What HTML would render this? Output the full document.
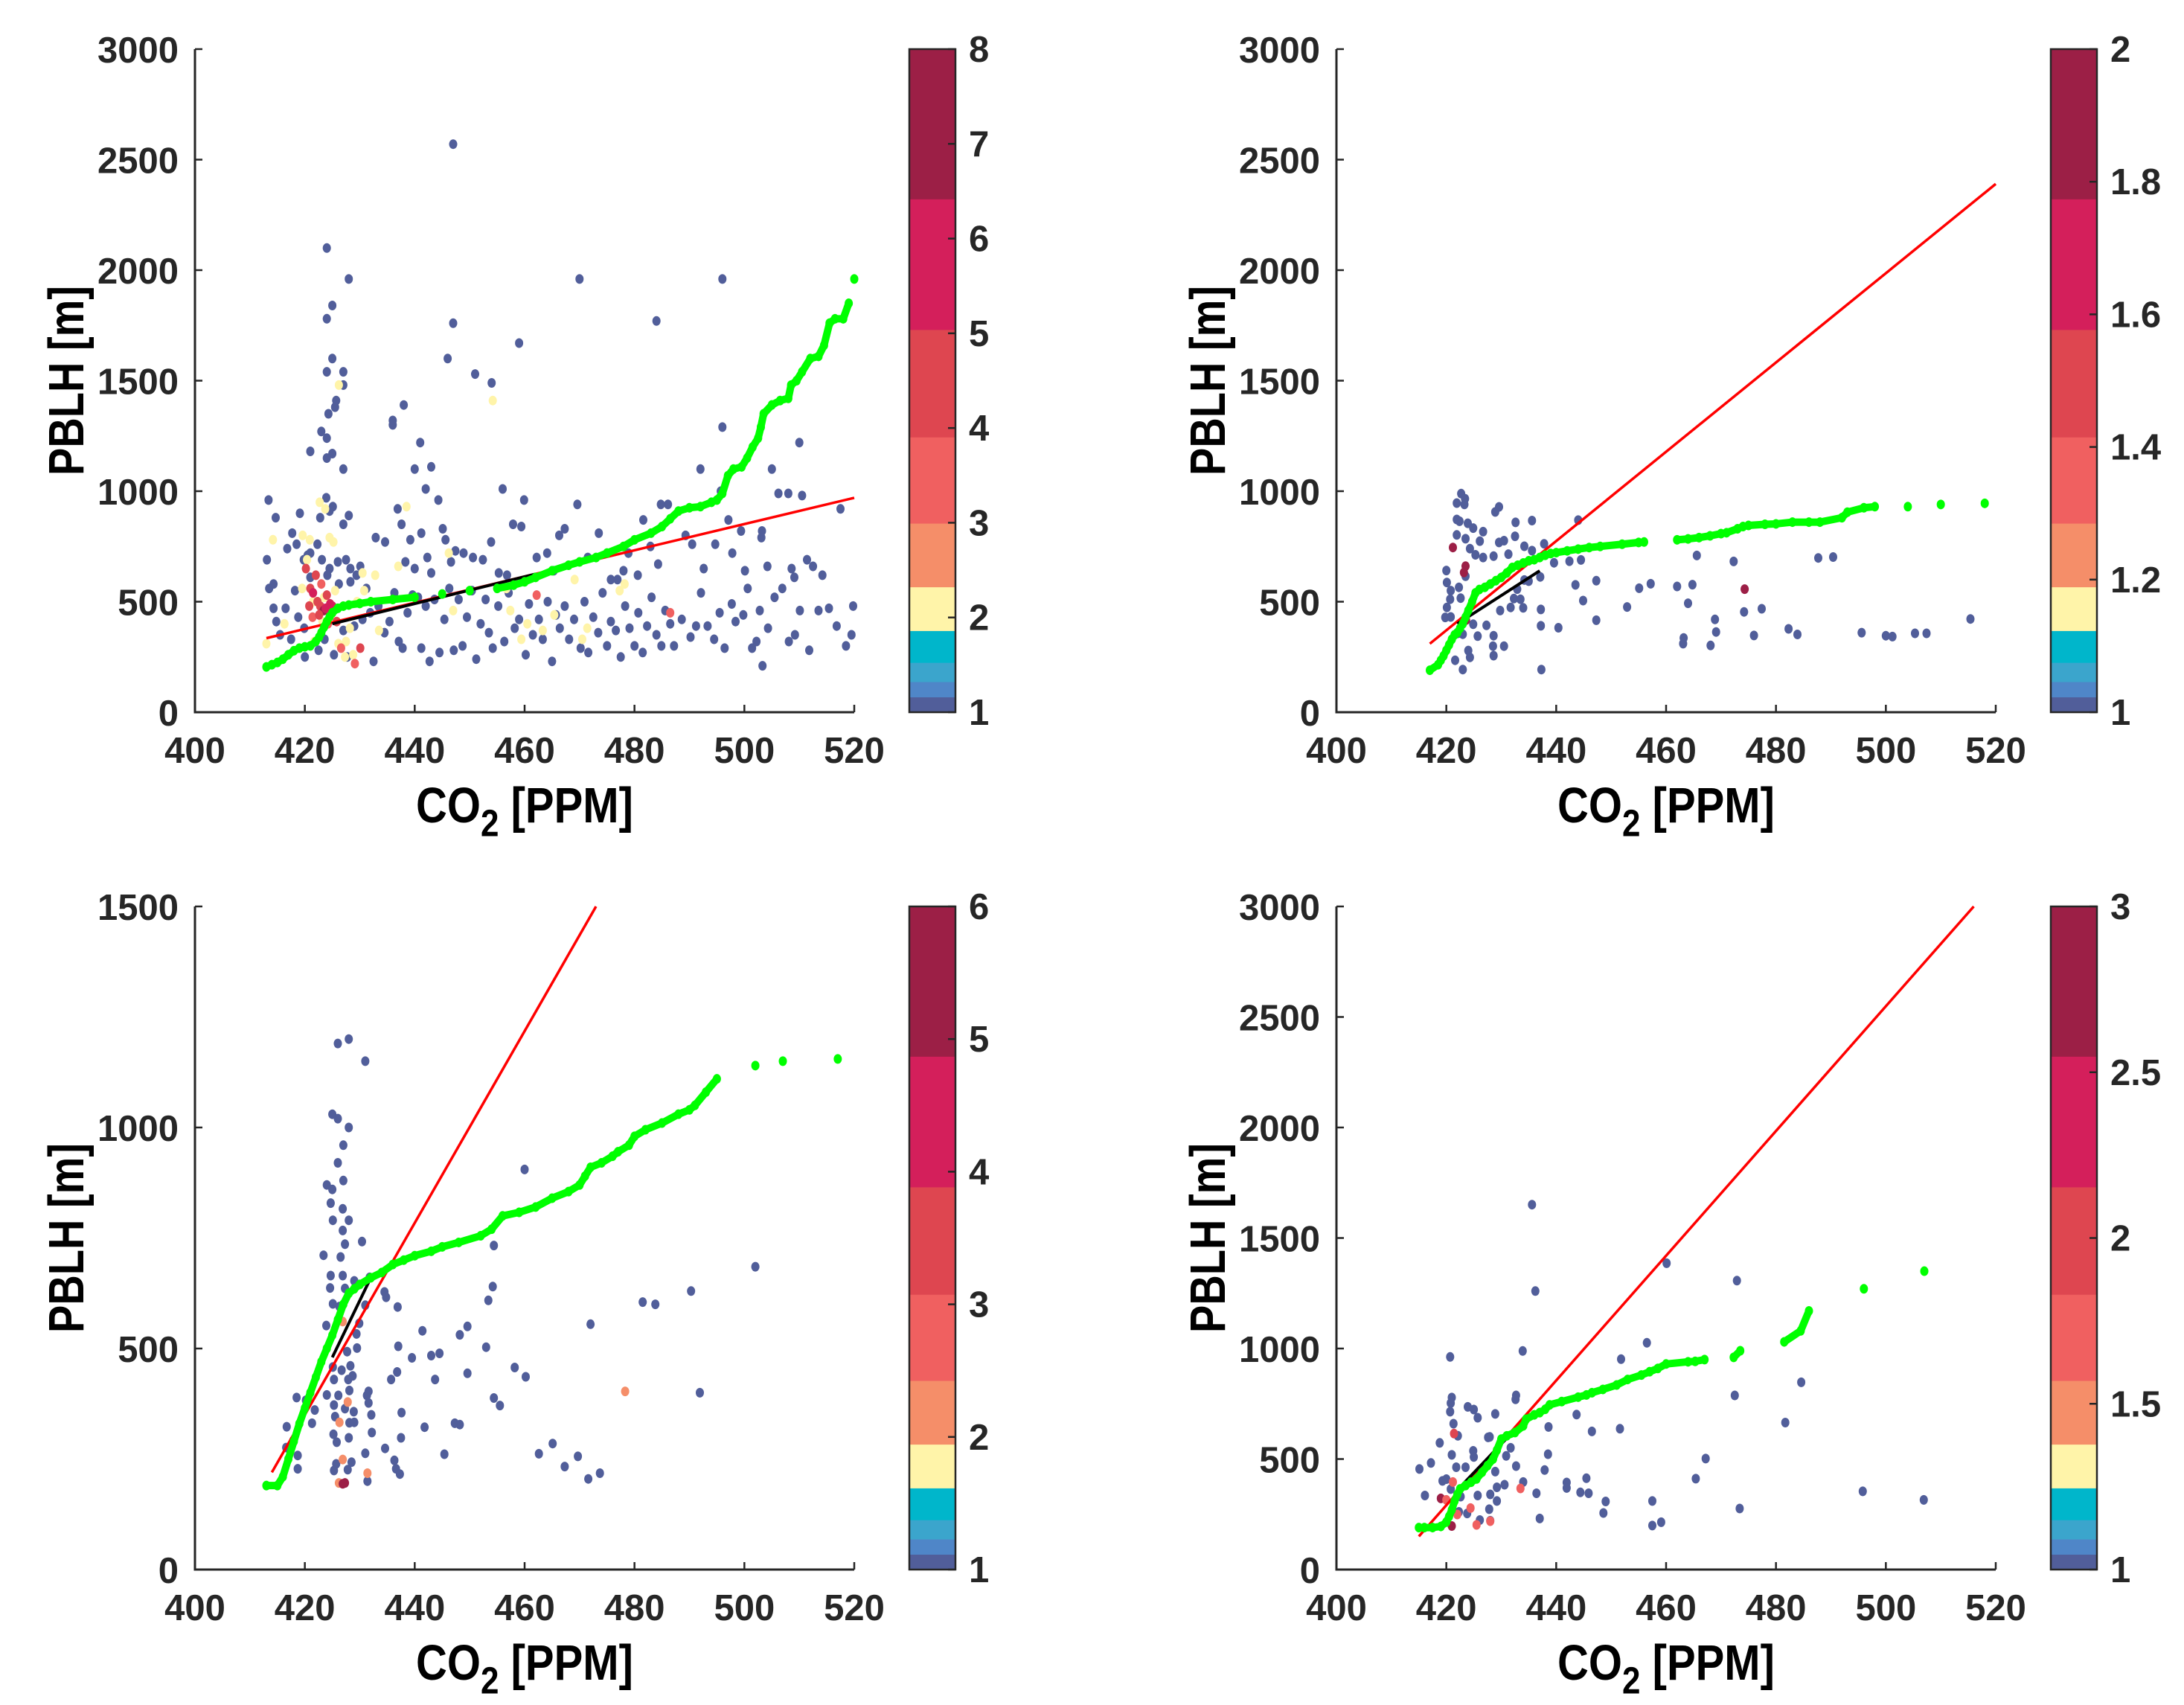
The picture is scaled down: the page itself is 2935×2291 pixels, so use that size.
<!DOCTYPE html>
<html><head><meta charset="utf-8">
<style>
html,body{margin:0;padding:0;background:#fff;}
svg{display:block;font-family:"Liberation Sans",Arial,sans-serif;}
</style></head>
<body>
<svg id="fig" width="2935" height="2291" viewBox="0 0 2935 2291" xmlns="http://www.w3.org/2000/svg"></svg>
<script>
// ---------- DATA ----------
// Panel A (top-left)
const aPts = [[447,2570,1],[424,2100,1],[428,1960,1],[470,1960,1],[496,1960,1],[425,1840,1],[424,1780,1],[447,1760,1],[484,1770,1],[459,1670,1],[446,1600,1],[425,1600,1],[424,1540,1],[427,1540,1],[451,1530,1],[454,1490,1],[427,1480,1],[438,1390,1],[436,1320,1],[436,1300,1],[496,1290,1],[423,1270,1],[424,1240,1],[441,1220,1],[510,1220,1],[421,1180,1],[425,1170,1],[424,1150,1],[427,1100,1],[440,1100,1],[443,1110,1],[492,1100,1],[505,1100,1],[442,1010,1],[456,1010,1],[508,990,1],[424.3,1350,1],[425.5,1380,1],[425.7,1410,1],
[413.4,960,1],[414.7,880,1],[417.7,810,1],[419.1,900,1],[422.8,880,1],[423.9,970,1],[424.5,910,1],[425.1,930,1],[427,850,1],[428,890,1],[420.5,710,1],[416.8,740,1],[418.5,760,1],[419.8,690,1],[421,720,1],[422.3,760,1],[423.1,690,1],[424.5,650,1],[426,680,1],[427.5,690,1],[428.3,650,1],[429.4,620,1],[430.1,660,1],[432.9,790,1],[434.6,770,1],[436.9,920,1],[437.6,850,1],[438.3,680,1],[439.2,780,1],[440,650,1],[441.2,810,1],[442.3,700,1],[443,630,1],[444.3,960,1],[445.1,830,1],[445.6,780,1],[446.6,680,1],[447.4,730,1],[448.9,720,1],[450.6,700,1],[452.4,690,1],[453.9,770,1],[455.3,630,1],[456.8,620,1],[457.9,850,1],[459.4,840,1],[459.9,960,1],[462.2,700,1],[464.1,720,1],[465.3,640,1],[466.3,800,1],[467.3,830,1],[469.6,940,1],[471.5,700,1],[473.5,810,1],[475.7,600,1],[476.9,600,1],[478,640,1],[478.9,720,1],[480.6,620,1],[481.6,870,1],[482.9,750,1],[484.3,670,1],[484.8,940,1],[486.1,940,1],[489.3,800,1],[490.5,760,1],[492.6,650,1],[494.7,760,1],[495.7,1000,1],[497.1,870,1],[497.8,720,1],[499.4,820,1],[500.1,640,1],[503.1,790,1],[503.2,820,1],[504.2,660,1],[506.2,990,1],[508.6,650,1],[509.1,610,1],[510.5,980,1],[511.4,690,1],[512.5,660,1],[514.2,620,1],[517.5,920,1],
[413.1,690,1],[413.5,560,1],[414.3,580,1],[414.3,470,1],[414.8,410,1],[415.5,350,1],[416.5,470,1],[417.5,330,1],[418.2,550,1],[418.8,430,1],[419.9,380,1],[420,250,1],[421,610,1],[422.5,280,1],[423.6,330,1],[424.1,620,1],[425.3,260,1],[426.2,580,1],[427,370,1],[427.7,250,1],[428.3,590,1],[429,390,1],[430.5,420,1],[431.2,560,1],[431.9,450,1],[432.5,230,1],[433.4,480,1],[434.5,360,1],[435.4,410,1],[436.3,540,1],[437.1,320,1],[437.8,290,1],[438.7,450,1],[439.6,530,1],[440.6,520,1],[441.2,290,1],[442,480,1],[442.7,230,1],[443.6,510,1],[444.5,270,1],[445.4,420,1],[446.3,560,1],[447.1,280,1],[448,510,1],[448.7,300,1],[449.5,430,1],[450.4,550,1],[451.2,240,1],[452,400,1],[452.9,510,1],[453.5,360,1],[454.2,290,1],[455.2,480,1],[456.3,320,1],[457.1,540,1],[458.2,380,1],[459,420,1],[460.2,260,1],[460.8,490,1],[461.5,350,1],[462.6,420,1],[463.3,330,1],[464.2,500,1],[465,230,1],[465.7,440,1],[466.4,380,1],[467.3,480,1],[468.1,330,1],[469,420,1],[470.2,290,1],[470.9,500,1],[471.6,270,1],[472.5,430,1],[473.4,360,1],[474.2,540,1],[475,300,1],[475.7,410,1],[476.6,370,1],[477.5,250,1],[478.3,480,1],[479.1,380,1],[480,300,1],[480.7,450,1],[481.5,270,1],[482.3,390,1],[483.1,520,1],[484,350,1],[484.9,300,1],[485.6,460,1],[486.5,400,1],[487.2,300,1],[488.6,420,1],[490.2,340,1],[491.2,390,1],[492.1,540,1],[493.3,390,1],[494.5,330,1],[495.5,450,1],[496.4,290,1],[497.7,490,1],[498.4,410,1],[499.8,440,1],[500.6,560,1],[501.4,290,1],[502.2,320,1],[502.8,460,1],[503.3,210,1],[504.3,380,1],[505.5,520,1],[506.9,560,1],[508.1,320,1],[509.2,350,1],[510.1,460,1],[511.8,280,1],[513.5,460,1],[515.4,470,1],[516.8,390,1],[518.5,300,1],[519.5,350,1],[519.8,480,1],
[413,310,2],[414.2,780,2],[416.3,400,2],[419.6,800,2],[420.4,690,2],[420.9,780,2],[422.7,950,2],[423.7,920,2],[424.5,790,2],[425.2,770,2],[426.2,1480,2],[425.5,550,2],[424.7,430,2],[423.2,410,2],[421.7,320,2],[426.1,310,2],[427.5,320,2],[428.2,380,2],[429.5,500,2],[430.5,630,2],[433.5,370,2],[437,660,2],[438.5,930,2],[446.2,720,2],[447,460,2],[454.2,1410,2],[456.7,560,2],[457.4,460,2],[459.4,330,2],[460.5,400,2],[463.3,370,2],[465.4,440,2],[469.1,600,2],[470.5,330,2],[471.4,380,2],[477.3,550,2],[478.2,580,2],[427.3,250,2],[428.8,260,2],[423.5,520,2],[421.5,500,2],[419.5,560,2],[430.8,550,2],[432.8,620,2],
[421,560,5],[421.5,540,6],[422.3,500,4],[422.8,480,5],[423.4,460,7],[424,530,5],[424.6,490,6],[425.2,460,4],[420.8,480,4],[421.4,430,3],[422,620,4],[423,580,3],[425.8,410,4],[426.6,290,3.5],[430.1,290,4],[429.1,220,3.5],[462.2,530,3.5],[486.5,450,3.5],[420.2,650,4],[422.6,440,4],[424.2,400,3],[425,480,6],[423.8,470,6]];
const aGreen = [[413,205],[414,215],[415,225],[416,240],[417,260],[418,278],[419,290],[420,296],[421,300],[422,320],[422.6,340],[423,360],[423.5,385],[424,410],[424.5,432],[425,450],[426,470],[427,480],[428,485],[430,492],[432,500],[436,510],[440,520],[445,535],[450,550],[455,560],[458,575],[460,590],[462,610],[465,640],[468,665],[470,680],[473,700],[475,720],[478,750],[480,780],[483,810],[485,840],[486.5,875],[488,910],[490,925],[492,930],[494,950],[495,960],[496,990],[497,1070],[498,1100],[499.5,1110],[500.5,1150],[501.5,1200],[502.5,1240],[503,1290],[503.5,1350],[505,1390],[506.5,1410],[508,1420],[508.5,1480],[509.5,1500],[510.5,1540],[512,1600],[513.5,1610],[514.5,1660],[515.5,1760],[516.5,1780],[518,1780],[519,1850],[520,1960]];
const aRed = [[413,335],[520,970]];
const aBlack = [[425,400],[462,625]];

// Panel B (top-right)
const bPts = [[422.7,989,1],[423.4,966,1],[421.9,946,1],[423.3,940,1],[429.6,929,1],[428.9,906,1],[421.9,872,1],[422.4,864,1],[423.9,855,1],[424.9,833,1],[426.7,817,1],[432.6,859,1],[435.6,867,1],[444,869,1],[421.9,802,1],[423.5,785,1],[426.1,774,1],[432.5,796,1],[429.6,768,1],[430.5,776,1],[434.2,751,1],[435.6,731,1],[437.8,762,1],[424.3,740,1],[425.3,712,1],[426.7,700,1],[428.6,706,1],[431.3,715,1],[420,641,1],[423.5,615,1],[420.1,587,1],[422.3,565,1],[420.8,550,1],[422.6,516,1],[420.7,511,1],[420.1,474,1],[420.8,431,1],[419.8,429,1],[424.9,398,1],[427.3,393,1],[422.1,357,1],[423,353,1],[425.7,344,1],[428.6,346,1],[424,279,1],[424.3,248,1],[421.6,235,1],[423,193,1],[428.6,256,1],[428.5,299,1],[430.5,299,1],[431.7,474,1],[429.8,460,1],[434,472,1],[432.3,514,1],[433.5,511,1],[432.9,557,1],[434.2,598,1],[435,593,1],[437.1,612,1],[439.6,676,1],[442.4,683,1],[444.5,689,1],[443.5,576,1],[447.3,595,1],[444.9,505,1],[452.9,476,1],[455.1,561,1],[457.2,581,1],[462,569,1],[464.8,577,1],[464,493,1],[447.3,416,1],[437.2,465,1],[437.2,391,1],[440.4,382,1],[437.3,193,1],[465.6,709,1],[472.3,682,1],[487.7,698,1],[490.4,702,1],[474.2,454,1],[477.4,468,1],[468.9,420,1],[469.1,363,1],[476,347,1],[463.2,336,1],[463.1,310,1],[468.1,302,1],[482.3,377,1],[483.9,352,1],[495.6,360,1],[500,346,1],[501.2,342,1],[505.3,357,1],[507.4,357,1],[515.4,422,1],
[421.2,745,2],[423.5,661,2],[423.2,632,2],[474.3,557,2],[423.6,417,2]];
const bGreen = [[417,190],[418.5,215],[419,235],[419.5,255],[420,280],[420.5,305],[421,330],[421.5,350],[422,360],[422.5,380],[423,400],[423.5,430],[424,460],[424.7,500],[425.3,540],[426,555],[427,565],[428,580],[429,595],[430,610],[431,630],[432,655],[433,665],[434,675],[435,685],[436,690],[437,700],[438,710],[439,718],[440,722],[442,730],[444,738],[446,745],[448,750],[452,760],[455,768],[456,770],[462,780],[464,784],[466,790],[468,798],[470,808],[471,812],[473,830],[474,840],[475,845],[478,850],[480,852],[483,860],[486,860],[488,860],[492,880],[493,905],[496,925],[498,930],[504,930],[510,940],[518,945]];
const bRed = [[417,310],[520,2390]];
const bBlack = [[422,400],[437,640]];

// Panel C (bottom-left)
const cPts = [[426,1190,1],[428,1200,1],[431,1150,1],[425,1030,1],[426,1020,1],[428,1000,1],[427,960,1],[426,920,1],[427,880,1],[424,870,1],[425,860,1],[460,905,1],
[424.7,829,1],[426.9,816,1],[425.1,790,1],[428,790,1],[426.9,767,1],[427.3,736,1],[430.4,742,1],[423.4,711,1],[426.5,707,1],[424.7,665,1],[426.9,665,1],[424.6,637,1],[427.3,636,1],[429,653,1],[431.8,661,1],[434.5,628,1],[434.8,616,1],[436.9,594,1],[425.1,601,1],[426.3,595,1],[431,598,1],[423.9,552,1],[429.9,557,1],[429.4,533,1],[441.4,540,1],[449.6,550,1],[448.2,531,1],[437,505,1],[453,503,1],[439.5,479,1],[443,484,1],[444.5,489,1],[427.7,493,1],[429.5,501,1],[425.1,458,1],[426.7,451,1],[428.3,461,1],[425.3,430,1],[427.9,430,1],[428.7,438,1],[435.7,430,1],[436.8,447,1],[443.7,430,1],[449.6,444,1],[458.2,457,1],[460.2,436,1],[424,395,1],[426.1,394,1],[428.1,405,1],[431.3,394,1],[431.6,403,1],[431.6,377,1],[425.3,372,1],[427.3,364,1],[428.9,357,1],[432.1,350,1],[437.6,355,1],[454.4,388,1],[455.5,371,1],[421.3,331,1],[416.7,323,1],[418.5,389,1],[420.2,383,1],[421.8,361,1],[425.5,346,1],[428.1,332,1],[429,333,1],[432.2,310,1],[425.2,306,1],[428,298,1],[437.5,298,1],[441.8,322,1],[447.3,331,1],[448.2,328,1],[425.8,288,1],[431,263,1],[434.6,274,1],[436.3,247,1],[445.4,261,1],[462.6,262,1],[465.1,285,1],[469.7,256,1],[467.3,233,1],[471.6,205,1],[473.7,218,1],[416.6,276,1],[417.9,292,1],[418.7,258,1],[418.7,228,1],[425.7,239,1],[428.5,243,1],[425.3,224,1],[427.8,226,1],[431.4,200,1],[436.6,228,1],[437.3,216,1],[454.4,733,1],[454.2,640,1],[453.4,609,1],[472,555,1],[481.5,605,1],[483.8,600,1],[490.3,630,1],[502,685,1],[491.9,400,1],
[427.8,379,2],[426.3,333,2],[426.9,249,2],[431.4,218,2],[478.3,403,2],[426.2,196,2],[426.9,561,2],
[427.3,196,6],[426.9,194,6]];
const cGreen = [[413,190],[415,190],[416,210],[417,250],[418,290],[419,330],[420,365],[421,400],[422,435],[423,470],[424,500],[425,530],[426,565],[427,600],[428,625],[429,635],[430,645],[432,660],[434,672],[436,690],[438,700],[440,710],[443,720],[445,730],[448,740],[452,755],[454,770],[456,800],[459,808],[462,820],[465,840],[468,855],[470,870],[471,890],[472,910],[474,920],[476,935],[477,945],[479,960],[480,980],[482,995],[485,1010],[488,1030],[490,1040],[491,1050],[493,1080],[495,1110],[502,1140],[507,1150],[517,1155]];
const cRed = [[414,220],[473,1500]];
const cBlack = [[425,480],[432,660]];

// Panel D (bottom-right)
const dPts = [[435.6,1651,1],[436.2,1260,1],[460.1,1386,1],[472.9,1307,1],[420.7,962,1],[433.9,989,1],[451.8,952,1],[456.5,1026,1],[484.6,847,1],[472.5,788,1],[432.7,788,1],[432.6,770,1],[421,778,1],[420.8,753,1],[423.9,736,1],[425,724,1],[420.7,714,1],[425.7,687,1],[428.9,704,1],[421.3,660,1],[443.7,701,1],[438.6,645,1],[446.5,625,1],[451.6,637,1],[481.7,665,1],[422.1,605,1],[427.9,600,1],[418.8,573,1],[431.7,551,1],[432.7,468,1],[438.5,522,1],[417.2,482,1],[421,519,1],[424.9,537,1],[425,509,1],[427.6,598,1],[415.1,455,1],[419.3,401,1],[420,409,1],[421.8,463,1],[423.5,463,1],[426,438,1],[428.9,443,1],[430.9,514,1],[467.2,502,1],[465.4,411,1],[445.5,413,1],[437.9,450,1],[441.9,394,1],[441.9,369,1],[434,396,1],[430.6,384,1],[429.2,372,1],[425.7,335,1],[428,340,1],[427.8,273,1],[422.3,261,1],[423.8,254,1],[429.2,310,1],[436.4,345,1],[444.4,349,1],[445.9,345,1],[449,308,1],[448.6,256,1],[416.1,335,1],[420.8,364,1],[422.6,330,1],[437,231,1],[457.5,310,1],[457.5,199,1],[459.1,214,1],[473.4,276,1],[495.8,354,1],[506.9,315,1],[428,221,1],[426.1,224,1],
[421.4,615,1.9],[433.5,367,1.8],[424.4,278,1.8],[422,249,1.8],[425.5,202,1.8],[428,219,1.8],[419,322,2.8],[421,197,2.8],[420,315,1.8],[421.2,396,1.8]];
const dGreen = [[415,190],[416,190],[417.5,190],[419,195],[420,215],[420.5,240],[421,270],[421.5,310],[422,340],[422.5,365],[423.5,380],[424.5,395],[425.5,410],[426.5,440],[427.5,470],[428.5,500],[429.2,540],[430,590],[431,605],[432.5,620],[434,650],[434.5,680],[436,700],[437,710],[438,725],[438.8,745],[441,760],[444,780],[445.5,790],[446.5,800],[448.5,815],[451,835],[453,860],[455.5,880],[457,895],[458.5,910],[460,930],[464,940],[465.3,942],[467,950],[472.3,960],[473.5,990],[481.5,1030],[484.5,1080],[486,1170],[496,1270],[507,1350]];
const dRed = [[415,150],[516,3000]];
const dBlack = [[422,360],[432,620]];

const xTicks = [400,420,440,460,480,500,520];
const yTicksTall = [0,500,1000,1500,2000,2500,3000];
const yTicksShort = [0,500,1000,1500];
const cbTicksA = [1,2,3,4,5,6,7,8];
const cbTicksB = [1,1.2,1.4,1.6,1.8,2];
const cbTicksC = [1,2,3,4,5,6];
const cbTicksD = [1,1.5,2,2.5,3];
const cbColors = ["#515e9a","#4f86c8","#3ba5cc","#00b6cb","#fff4a9","#f58e69","#f06060","#de4650","#d41f5b","#9c1f46"];
const cbBounds = [0,0.023,0.046,0.075,0.123,0.189,0.285,0.415,0.577,0.774,1];

// ---------- DRAW ----------
const NS="http://www.w3.org/2000/svg";
const svg=document.getElementById('fig');
function mk(tag,attrs,parent){const e=document.createElementNS(NS,tag);for(const k in attrs)e.setAttribute(k,attrs[k]);(parent||svg).appendChild(e);return e;}
function colorFor(f){for(let i=0;i<cbColors.length;i++){if(f<=cbBounds[i+1]+1e-9)return cbColors[i];}return cbColors[cbColors.length-1];}

function panel(id,ox,oy,yMax,yTicks,pts,green,red,black,cbTicks){
  const L=262+ox,R=1148+ox,T=66+oy,B=957+oy;
  const xs=v=>L+(v-400)/120*(R-L);
  const ys=v=>B-v/yMax*(B-T);
  const g=mk('g',{});
  
  
  const cmin=cbTicks[0],cmax=cbTicks[cbTicks.length-1];
  const sg=mk('g',{},g);
  
  
  pts.forEach(p=>{
    const c=mk('ellipse',{cx:xs(p[0]).toFixed(1),cy:ys(p[1]).toFixed(1),rx:5.5,ry:6.5,fill:colorFor((p[2]-cmin)/(cmax-cmin))},sg);
    
    
  });
  const rl=mk('line',{x1:xs(red[0][0]),y1:ys(red[0][1]),x2:xs(red[1][0]),y2:ys(red[1][1]),stroke:'#ff0000','stroke-width':3.5},g);
  
  
  const bl=mk('line',{x1:xs(black[0][0]),y1:ys(black[0][1]),x2:xs(black[1][0]),y2:ys(black[1][1]),stroke:'#000','stroke-width':4},g);
  
  
  const gg=mk('g',{},g);
  
  
  for(let i=1;i<green.length;i++){
    const x1=xs(green[i-1][0]),y1=ys(green[i-1][1]),x2=xs(green[i][0]),y2=ys(green[i][1]);
    if(Math.hypot(x2-x1,y2-y1)<32){
      const s=mk('line',{x1:x1,y1:y1,x2:x2,y2:y2,stroke:'#00ff00','stroke-width':10,'stroke-linecap':'round'},gg);
      
      
    }
  }
  green.forEach(p=>{
    const d=mk('ellipse',{cx:xs(p[0]),cy:ys(p[1]),rx:5.5,ry:6.5,fill:'#00ff00'},gg);
    
    
  });
  const ax=mk('path',{d:`M${L},${T}V${B}H${R}`,stroke:'#262626','stroke-width':3,fill:'none'},g);
  
  
  xTicks.forEach(v=>{
    const x=xs(v);
    mk('line',{x1:x,y1:B,x2:x,y2:B-10,stroke:'#262626','stroke-width':2.5},g);
    const t=mk('text',{x:x,y:B+68,'font-size':49,'font-weight':'bold','text-anchor':'middle',fill:'#262626'},g);
    t.textContent=v;
    
    
  });
  yTicks.forEach(v=>{
    const y=ys(v);
    mk('line',{x1:L,y1:y,x2:L+10,y2:y,stroke:'#262626','stroke-width':2.5},g);
    const t=mk('text',{x:L-22,y:y+18,'font-size':49,'font-weight':'bold','text-anchor':'end',fill:'#262626'},g);
    t.textContent=v;
    
    
  });
  const xl=mk('text',{x:(L+R)/2,y:B+148,'font-size':58,'font-weight':'bold','text-anchor':'middle',fill:'#000',transform:`translate(0,${B+148}) scale(1,1.15) translate(0,${-(B+148)})`},g);
  
  
  const t1=mk('tspan',{},xl);t1.textContent='CO';
  const t2=mk('tspan',{dy:16,'font-size':44},xl);t2.textContent='2';
  const t3=mk('tspan',{dy:-16},xl);t3.textContent=' [PPM]';
  const cy=(T+B)/2;
  const yl=mk('text',{x:0,y:0,'font-size':56,'font-weight':'bold','text-anchor':'middle',fill:'#000',transform:`translate(${L-150},${cy}) rotate(-90) scale(1,1.2)`},g);
  yl.textContent='PBLH [m]';
  
  
  const CL=1222+ox,CR=1284+ox;
  const cb=mk('g',{},g);
  
  
  const cs=f=>B-f*(B-T);
  for(let i=0;i<cbColors.length;i++){
    const r=mk('rect',{x:CL,y:cs(cbBounds[i+1]),width:CR-CL,height:cs(cbBounds[i])-cs(cbBounds[i+1])+0.5,fill:cbColors[i]},cb);
    
    
  }
  mk('rect',{x:CL,y:T,width:CR-CL,height:B-T,fill:'none',stroke:'#262626','stroke-width':2.5},cb);
  cbTicks.forEach(v=>{
    const y=cs((v-cmin)/(cmax-cmin));
    mk('line',{x1:CR-10,y1:y,x2:CR,y2:y,stroke:'#262626','stroke-width':2.5},cb);
    const t=mk('text',{x:CR+18,y:y+17,'font-size':49,'font-weight':'bold',fill:'#262626'},cb);
    t.textContent=v;
    
    
  });
}
panel('panel-top-left',0,0,3000,yTicksTall,aPts,aGreen,aRed,aBlack,cbTicksA);
panel('panel-top-right',1534,0,3000,yTicksTall,bPts,bGreen,bRed,bBlack,cbTicksB);
panel('panel-bottom-left',0,1152,1500,yTicksShort,cPts,cGreen,cRed,cBlack,cbTicksC);
panel('panel-bottom-right',1534,1152,3000,yTicksTall,dPts,dGreen,dRed,dBlack,cbTicksD);
</script>
</body></html>
